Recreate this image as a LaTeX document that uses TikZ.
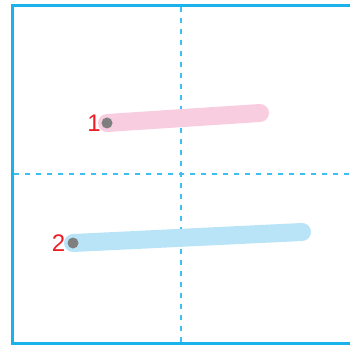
\documentclass[tikz,border=0pt]{standalone}
\usepackage{fontspec}
\usepackage{xcolor}
\usepackage{tikz}
\usetikzlibrary{positioning}
\newfontfamily\orderfont{Liberation Sans}
\definecolor{FrameCyan}{HTML}{1AB2EA}
\definecolor{GuideCyan}{HTML}{3DBFF0}
\definecolor{StrokePink}{HTML}{F8CDE0}
\definecolor{StrokeBlue}{HTML}{B9E3F7}
\definecolor{StartGrey}{HTML}{7F7F80}
\definecolor{OrderRed}{HTML}{EE1C25}
\tikzset{
  strokebar/.style={line width=18pt, line cap=round},
  startdot/.style={circle, fill=StartGrey, inner sep=0pt, minimum size=11pt},
  ordernum/.style={font=\fontsize{24}{28}\selectfont\orderfont, text=OrderRed, inner sep=0pt},
  guide/.style={GuideCyan, line width=1.6pt, dash pattern=on 5pt off 6pt}
}
\begin{document}
\begin{tikzpicture}[x=1pt,y=-1pt]
  \useasboundingbox (0,0) rectangle (350,347);
  \begin{scope}
    \clip (0,0) rectangle (350,347);
    \draw[FrameCyan, line width=3pt] (12.5,5.5) rectangle (351,343.5);
  \end{scope}
  % guide lines through the middle
  \coordinate (midT) at (181,7);
  \coordinate (midB) at (181,342);
  \coordinate (midL) at (14,174);
  \coordinate (midR) at (350,174);
  \draw[guide] (midT) -- (midB);
  \draw[guide] (midL) -- (midR);
  \foreach \i/\col/\xa/\ya/\xb/\yb/\lx in {
    1/StrokePink/107/123/260/113/94,
    2/StrokeBlue/73/243/302/232/58.5}{
    \coordinate (s\i a) at (\xa,\ya);
    \coordinate (s\i b) at (\xb,\yb);
    \draw[strokebar, \col] (s\i a) -- (s\i b);
    \node[startdot] (dot\i) at (s\i a) {};
    \node[ordernum] (num\i) at (\lx,\ya) {\i};
  }
\end{tikzpicture}
\end{document}
